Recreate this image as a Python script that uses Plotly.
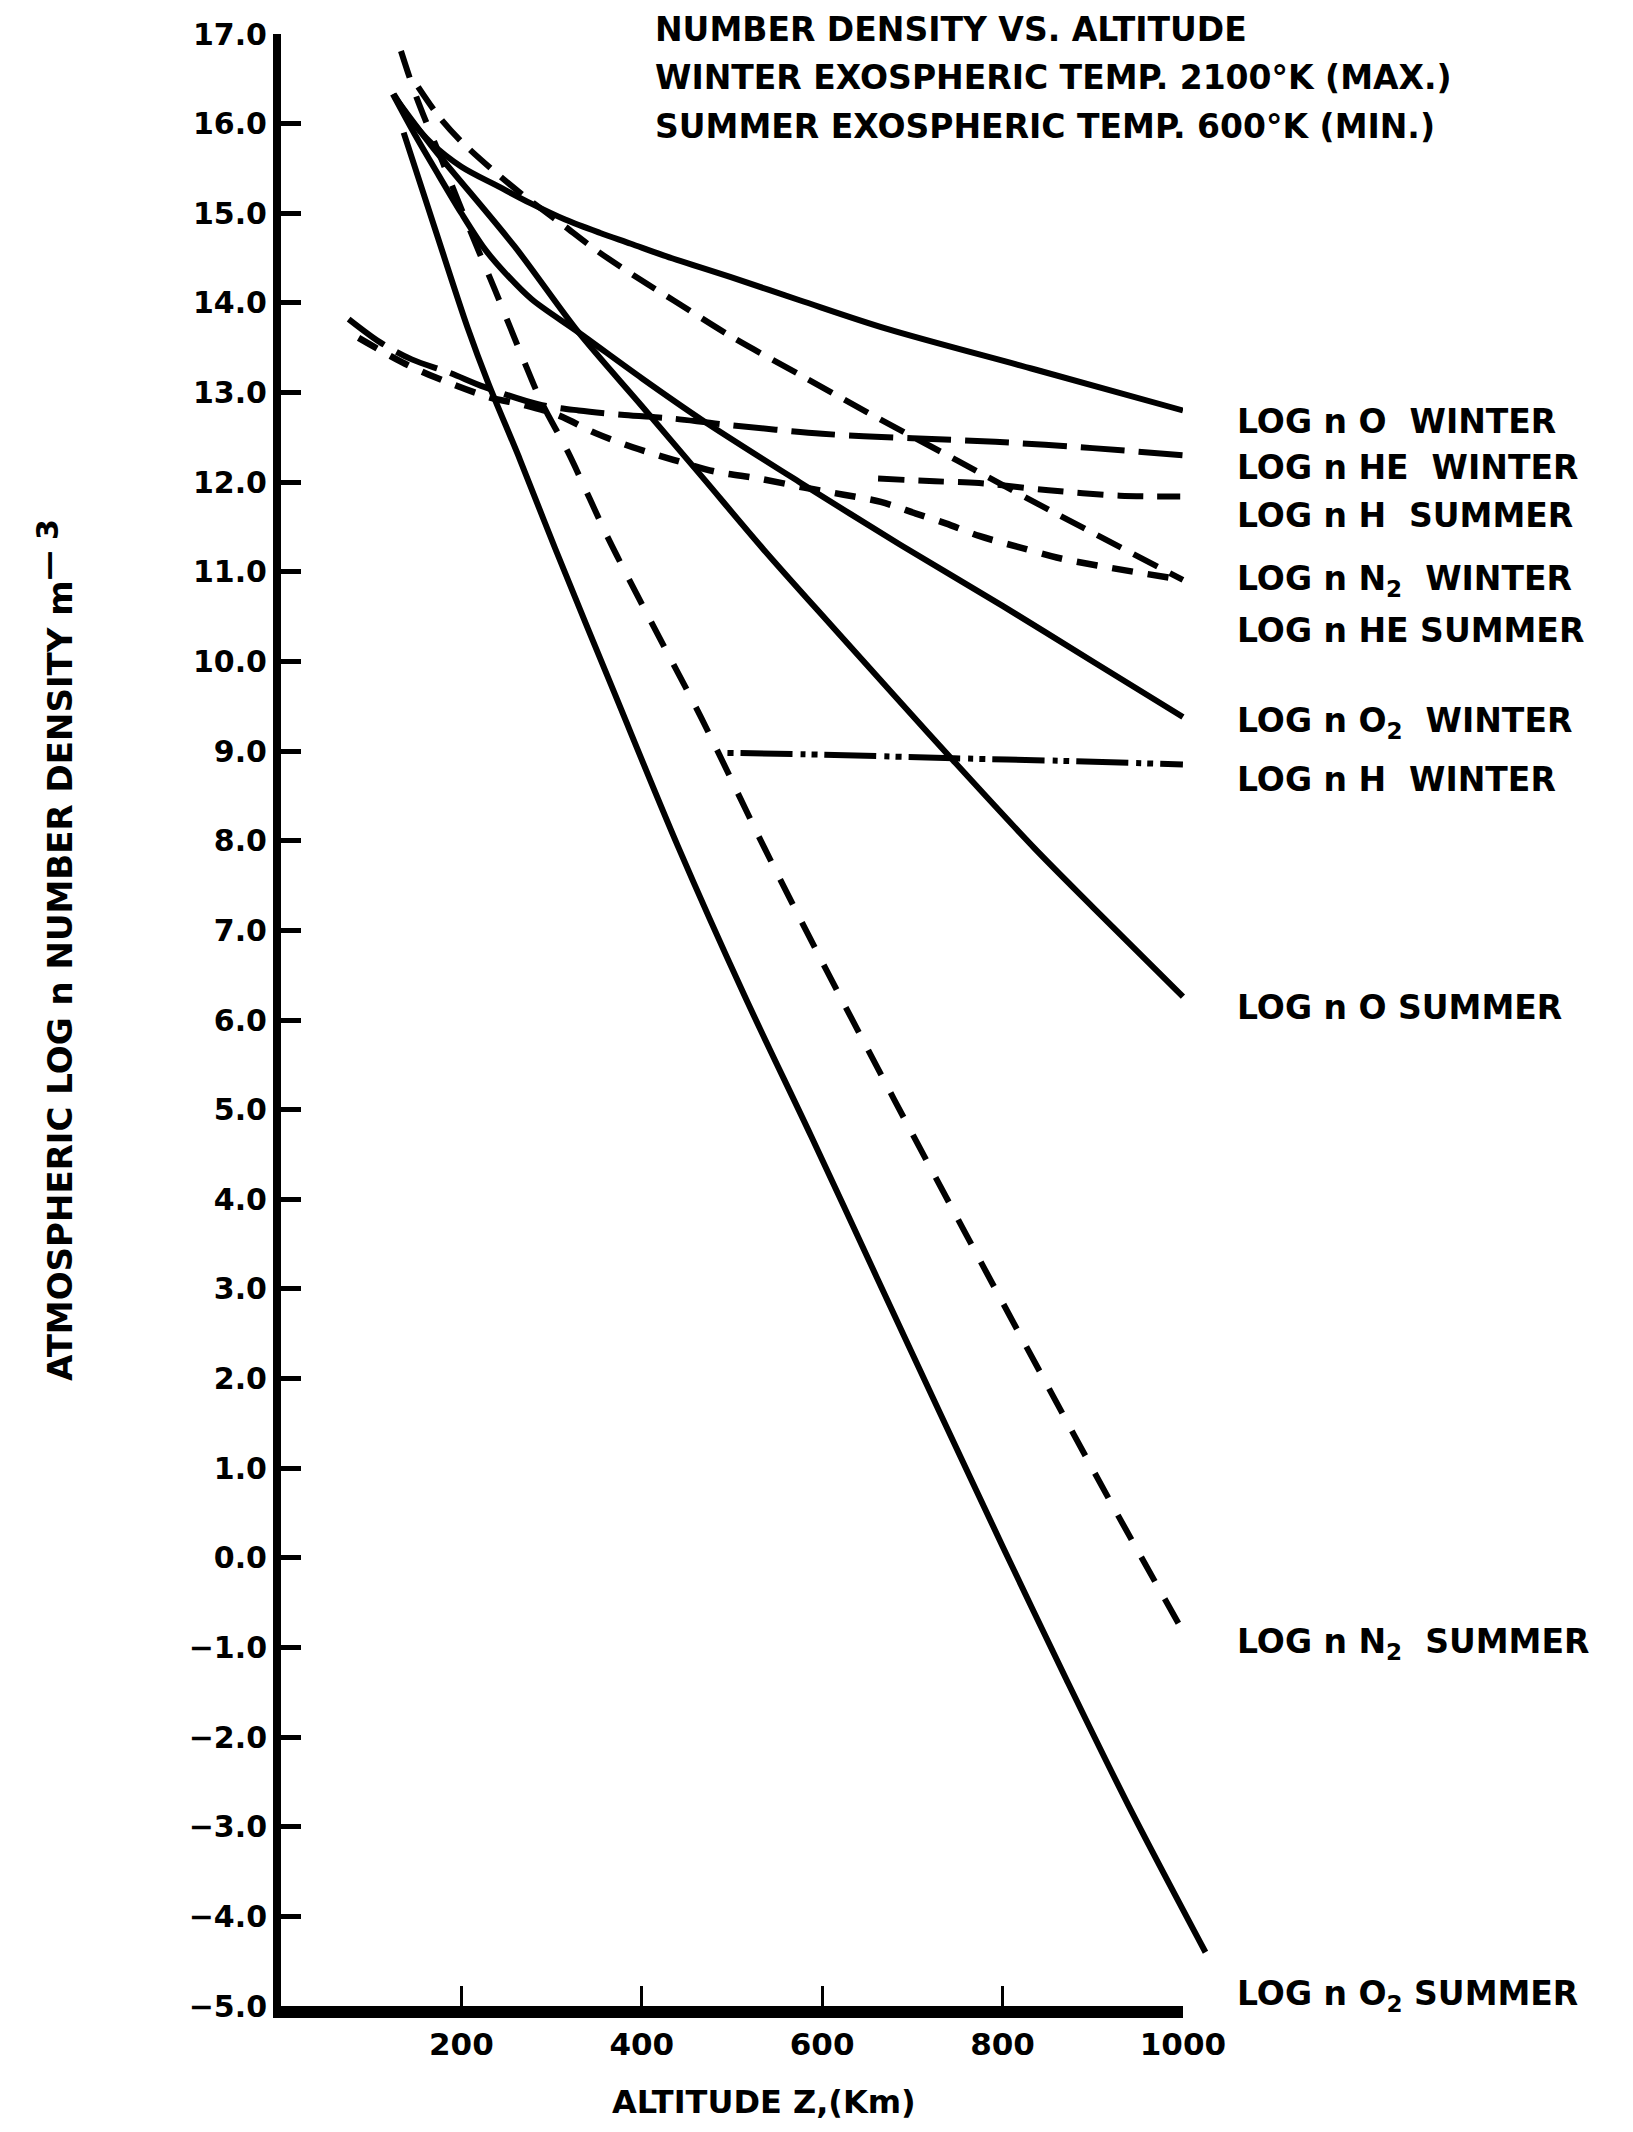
import plotly.graph_objects as go

# ---------------- data (altitude km, log10 number density m^-3) ----------------
o_winter_km = [125, 141, 167, 200, 241, 277, 315, 354, 388, 424, 498, 575, 672, 835, 1000]
o_winter_val = [16.33, 16.08, 15.78, 15.52, 15.30, 15.11, 14.93, 14.78, 14.66, 14.53, 14.29, 14.03, 13.71, 13.26, 12.80]

he_winter_km = [75, 110, 145, 187, 226, 285, 330, 381, 434, 486, 600, 700, 792, 900, 1000]
he_winter_val = [13.82, 13.56, 13.37, 13.22, 13.06, 12.87, 12.80, 12.75, 12.71, 12.65, 12.54, 12.49, 12.45, 12.38, 12.30]

h_summer_km = [662, 725, 774, 851, 930, 997]
h_summer_val = [12.04, 12.01, 11.99, 11.91, 11.85, 11.84]

n2_winter_km = [152, 175, 200, 235, 270, 310, 352, 400, 435, 500, 575, 650, 750, 850, 1000]
n2_winter_val = [16.41, 16.08, 15.80, 15.48, 15.19, 14.89, 14.57, 14.25, 14.03, 13.62, 13.20, 12.78, 12.24, 11.70, 10.91]

he_summer_km = [86, 134, 171, 230, 270, 309, 348, 390, 435, 481, 530, 580, 624, 665, 704, 737, 774, 820, 860, 905, 1000]
he_summer_val = [13.61, 13.34, 13.17, 12.95, 12.86, 12.74, 12.55, 12.39, 12.25, 12.12, 12.04, 11.94, 11.86, 11.78, 11.65, 11.54, 11.40, 11.27, 11.16, 11.07, 10.91]

o2_winter_km = [124, 150, 175, 200, 226, 248, 278, 330, 400, 466, 575, 687, 800, 900, 1000]
o2_winter_val = [16.33, 15.85, 15.42, 15.00, 14.60, 14.34, 14.04, 13.67, 13.16, 12.70, 12.00, 11.30, 10.62, 10.00, 9.38]

h_winter_km = [495, 600, 746, 870, 1000]
h_winter_val = [8.98, 8.96, 8.92, 8.89, 8.85]

o_summer_km = [126, 167, 259, 330, 400, 466, 535, 613, 680, 743, 835, 900, 1000]
o_summer_val = [16.30, 15.75, 14.63, 13.67, 12.85, 12.07, 11.25, 10.37, 9.62, 8.92, 7.92, 7.26, 6.26]

n2_summer_km = [133, 150, 180, 210, 237, 267, 289, 318, 363, 410, 466, 536, 600, 680, 760, 838, 920, 1000]
n2_summer_val = [16.81, 16.30, 15.55, 14.80, 14.15, 13.41, 12.89, 12.34, 11.37, 10.45, 9.37, 7.92, 6.65, 5.11, 3.60, 2.14, 0.62, -0.82]

o2_summer_km = [136, 170, 207, 230, 265, 304, 370, 440, 514, 588, 661, 730, 800, 870, 940, 1025]
o2_summer_val = [15.90, 14.85, 13.72, 13.10, 12.25, 11.26, 9.64, 7.94, 6.27, 4.70, 3.12, 1.63, 0.13, -1.34, -2.77, -4.40]

x_ticks = [200, 400, 600, 800, 1000]

curve_labels = [
    "LOG n O\u00a0\u00a0WINTER",
    "LOG n HE\u00a0\u00a0WINTER",
    "LOG n H\u00a0\u00a0SUMMER",
    "LOG n N<sub>2</sub>\u00a0\u00a0WINTER",
    "LOG n HE SUMMER",
    "LOG n O<sub>2</sub>\u00a0\u00a0WINTER",
    "LOG n H\u00a0\u00a0WINTER",
    "LOG n O SUMMER",
    "LOG n N<sub>2</sub>\u00a0\u00a0SUMMER",
    "LOG n O<sub>2</sub> SUMMER",
]

title_lines = [
    "NUMBER DENSITY VS. ALTITUDE",
    "WINTER EXOSPHERIC TEMP. 2100\u00b0K (MAX.)",
    "SUMMER EXOSPHERIC TEMP. 600\u00b0K (MIN.)",
]

# ---------------- layout geometry (page pixels; the page body adds an 8px margin) ----------------
OFF = 8
FONT = "DejaVu Sans"
W, H = 1625, 2116
PX0, PX1000 = 281, 1183          # page x of 0 km and 1000 km
PY_TOP, PY_BOT = 34, 2006        # page y of 17.0 and -5.0
X2_MAX = 1040                     # wider hidden scale so lines past 1000 km are not clipped
kmpx = (PX1000 - PX0) / 1000.0
ML = PX0 - OFF
MT = PY_TOP - OFF
MB = H - (PY_BOT - OFF)
plot_w = X2_MAX * kmpx
MR = W - ML - plot_w
plot_h = H - MT - MB
dom = (PX1000 - PX0) / plot_w


def pxx(px):
    return (px - OFF - ML) / plot_w


def pxy(py):
    return (H - MB - (py - OFF)) / plot_h


label_px = 1235
label_py = [422, 468, 515, 580, 630, 723, 780, 1007, 1643, 1995]
title_px = 653
title_py = [30, 78, 126]

fig = go.Figure()

# (x, y, dash, width, x-axis)
series = [
    (o_winter_km, o_winter_val, "solid", 6, "x"),
    (he_winter_km, he_winter_val, "44px,14px", 6, "x2"),
    (h_summer_km, h_summer_val, "26px,14px", 6, "x"),
    (n2_winter_km, n2_winter_val, "27px,14px", 6, "x2"),
    (he_summer_km, he_summer_val, "21px,15px", 6.5, "x2"),
    (o2_winter_km, o2_winter_val, "solid", 6, "x2"),
    (h_winter_km, h_winter_val, "6px,7px,52px,8px,5px,6px", 6, "x2"),
    (o_summer_km, o_summer_val, "solid", 6, "x2"),
    (n2_summer_km, n2_summer_val, "28px,20px", 6, "x2"),
    (o2_summer_km, o2_summer_val, "solid", 6, "x2"),
]
for xs, ys, dash, lw, xa in series:
    fig.add_trace(go.Scatter(
        x=xs, y=ys, mode="lines", xaxis=xa, yaxis="y",
        line=dict(color="black", width=lw, dash=dash, shape="spline", smoothing=0.9),
        hoverinfo="skip", showlegend=False,
    ))

annotations = []
for txt, py in zip(curve_labels, label_py):
    annotations.append(dict(
        text=txt, xref="paper", yref="paper", x=pxx(label_px), y=pxy(py),
        xanchor="left", yanchor="middle", showarrow=False,
        font=dict(family=FONT, size=33, color="black", weight="bold"),
    ))

for txt, py in zip(title_lines, title_py):
    annotations.append(dict(
        text=txt, xref="paper", yref="paper", x=pxx(title_px), y=pxy(py),
        xanchor="left", yanchor="middle", showarrow=False,
        font=dict(family=FONT, size=33, color="black", weight="bold"),
    ))

annotations.append(dict(
    text="ALTITUDE Z,(Km)", xref="paper", yref="paper",
    x=pxx(764), y=pxy(2102),
    xanchor="center", yanchor="middle", showarrow=False,
    font=dict(family=FONT, size=32, color="black", weight="bold"),
))
annotations.append(dict(
    text="ATMOSPHERIC LOG n NUMBER DENSITY m<sup><span style=\"font-size:30px\">\u2014 3</span></sup>",
    xref="paper", yref="paper",
    x=pxx(55), y=pxy(950), textangle=-90,
    xanchor="center", yanchor="middle", showarrow=False,
    font=dict(family=FONT, size=34, color="black", weight="bold"),
))

fig.update_layout(
    width=W, height=H,
    margin=dict(l=ML, r=MR, t=MT, b=MB, autoexpand=False),
    paper_bgcolor="white", plot_bgcolor="rgba(0,0,0,0)",
    showlegend=False,
    font=dict(family=FONT, color="black", size=32, weight="bold"),
    xaxis=dict(
        domain=[0, dom], range=[0, 1000], anchor="y",
        tickmode="array", tickvals=x_ticks,
        ticks="inside", ticklen=20, tickwidth=3, tickcolor="black",
        showline=True, linewidth=12, linecolor="black",
        showgrid=False, zeroline=False,
        tickfont=dict(family=FONT, size=31, color="black", weight="bold"),
    ),
    xaxis2=dict(
        domain=[0, 1], range=[0, X2_MAX], anchor="y", visible=False,
        showgrid=False, zeroline=False,
    ),
    yaxis=dict(
        range=[-5, 17], anchor="x",
        tickmode="linear", tick0=-5, dtick=1, tickformat=".1f",
        ticks="inside", ticklen=20, tickwidth=5, tickcolor="black",
        showline=True, linewidth=8, linecolor="black",
        showgrid=False, zeroline=False,
        tickfont=dict(family=FONT, size=30, color="black", weight="bold"),
    ),
    annotations=annotations,
)

fig.write_html("out.html")
